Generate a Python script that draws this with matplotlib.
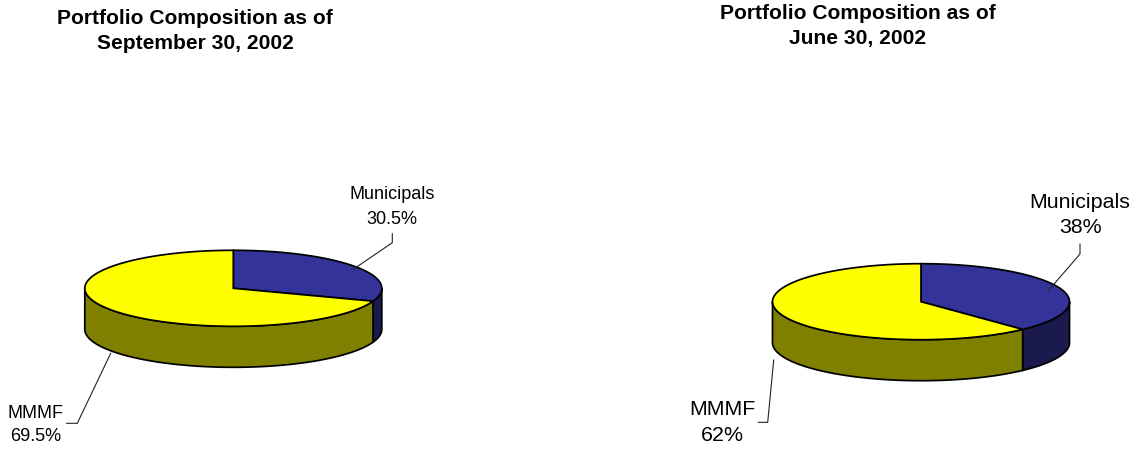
import numpy as np
import matplotlib
matplotlib.use("Agg")
import matplotlib.pyplot as plt

plt.rcParams["font.family"] = ["Liberation Sans", "DejaVu Sans"]

# values (percent, clockwise from 12 o'clock)
categories = ["Municipals", "MMMF"]
shares_sep = [30.5, 69.5]
shares_jun = [38.0, 62.0]
labels_sep = ["30.5%", "69.5%"]
labels_jun = ["38%", "62%"]
title_sep = "Portfolio Composition as of\nSeptember 30, 2002"
title_jun = "Portfolio Composition as of\nJune 30, 2002"

top_colors = ["#333399", "#FFFF00"]
side_colors = ["#1A1A4D", "#808000"]

RX, RY, DEPTH = 148.5, 38, 41


def ellipse_points(cx, cy, start, end):
    # angles in degrees clockwise from the top of the pie
    t = np.radians(np.linspace(start, end, 200))
    return cx + RX * np.sin(t), cy - RY * np.cos(t)


def draw_pie(ax, cx, cy, shares):
    edges = np.concatenate([[0], np.cumsum(shares)]) * 3.6

    # side walls, only the front half (90..270 deg) can be seen
    for i in range(len(shares)):
        start, end = max(edges[i], 90), min(edges[i + 1], 270)
        if start >= end:
            continue
        x, y = ellipse_points(cx, cy, start, end)
        ax.fill(np.r_[x, x[::-1]], np.r_[y, y[::-1] + DEPTH],
                facecolor=side_colors[i], edgecolor="black", linewidth=1.25, zorder=2)

    # top slices
    for i in range(len(shares)):
        x, y = ellipse_points(cx, cy, edges[i], edges[i + 1])
        ax.fill(np.r_[cx, x], np.r_[cy, y], facecolor=top_colors[i],
                edgecolor="black", linewidth=1.25, joinstyle="miter", zorder=3)


fig = plt.figure(figsize=(11.38, 4.49), dpi=100)
ax = fig.add_axes([0, 0, 1, 1])
ax.set_xlim(0, 1138)
ax.set_ylim(449, 0)
ax.axis("off")

# left pie
draw_pie(ax, 233.3, 288.3, shares_sep)
ax.text(195, 31, title_sep, ha="center", va="center", fontsize=15.1,
        fontweight="bold", linespacing=1.42, color="black")
ax.plot([353.3, 392.3, 392.3], [269.3, 242.7, 233.7], color="#222222", lw=0.8, zorder=4)
ax.plot([110.7, 77.3, 66.7], [353.3, 423.3, 423.3], color="#222222", lw=0.8, zorder=4)
ax.text(392, 207, f"{categories[0]}\n{labels_sep[0]}", ha="center", va="center",
        fontsize=13, linespacing=1.54, color="black")
ax.text(36, 425, f"{categories[1]}\n{labels_sep[1]}", ha="center", va="center",
        fontsize=13, linespacing=1.48, color="black")

# right pie
draw_pie(ax, 921, 301.7, shares_jun)
ax.text(858, 26, title_jun, ha="center", va="center", fontsize=15.1,
        fontweight="bold", linespacing=1.42, color="black")
ax.plot([1048.3, 1080, 1080], [290.7, 254, 244], color="#222222", lw=0.8, zorder=4)
ax.plot([773.7, 767.7, 758.3], [360, 422.3, 422.3], color="#222222", lw=0.8, zorder=4)
ax.text(1080, 215, f"{categories[0]}\n{labels_jun[0]}", ha="center", va="center",
        fontsize=15.4, linespacing=1.43, color="black")
ax.text(722, 422.5, f"{categories[1]}\n{labels_jun[1]}", ha="center", va="center",
        fontsize=15.4, linespacing=1.5, color="black")

fig.savefig("out.png", dpi=100, facecolor="white")
